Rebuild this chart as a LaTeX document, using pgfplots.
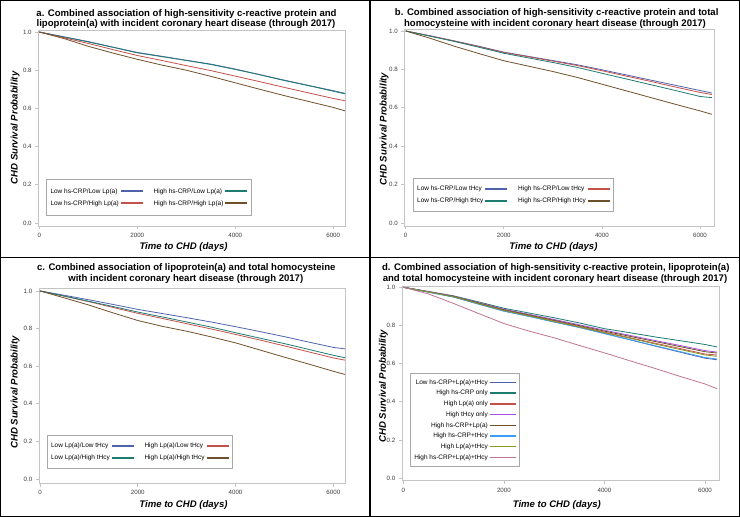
\documentclass[border=0pt]{standalone}
\usepackage{fontspec}
\setmainfont{Liberation Sans}
\usepackage{pgfplots}
\usepackage{pgfplotstable}
\pgfplotsset{compat=1.18}

\definecolor{cblue}{HTML}{4F63AD}
\definecolor{cred}{HTML}{C4504A}
\definecolor{cteal}{HTML}{1E7B70}
\definecolor{cbrown}{HTML}{70502A}
\definecolor{cpurple}{HTML}{A64FE0}
\definecolor{colive}{HTML}{869524}
\definecolor{clblue}{HTML}{3A9EF5}
\definecolor{cpink}{HTML}{C07493}
\definecolor{boxgrey}{HTML}{C4C4C4}
\definecolor{legendgrey}{HTML}{A8A8A8}
\definecolor{ticktext}{HTML}{3C3C3C}

\pgfplotstableread{
t LL HL LH HH
0 1.000 1.000 1.000 1.000
500 0.975 0.974 0.970 0.966
1000 0.950 0.948 0.940 0.925
1500 0.921 0.920 0.908 0.890
2000 0.893 0.891 0.877 0.857
2500 0.873 0.871 0.851 0.827
3000 0.852 0.851 0.824 0.800
3500 0.832 0.830 0.798 0.768
4000 0.806 0.804 0.769 0.734
4500 0.777 0.776 0.740 0.700
5000 0.748 0.746 0.710 0.667
5500 0.720 0.719 0.681 0.636
6000 0.693 0.690 0.652 0.605
6240 0.679 0.676 0.640 0.587
}\dataA

\pgfplotstableread{
t LL HL LH HH
0 1.000 1.000 1.000 1.000
500 0.975 0.974 0.973 0.962
1000 0.948 0.947 0.945 0.920
1500 0.920 0.918 0.915 0.882
2000 0.890 0.888 0.884 0.845
2500 0.868 0.866 0.860 0.817
3000 0.846 0.843 0.836 0.789
3500 0.824 0.820 0.810 0.758
4000 0.798 0.793 0.780 0.723
4500 0.771 0.765 0.750 0.688
5000 0.744 0.737 0.720 0.653
5500 0.717 0.708 0.690 0.618
6000 0.690 0.680 0.659 0.584
6240 0.677 0.669 0.653 0.566
}\dataB

\pgfplotstableread{
t LL LH HL HH
0 1.000 1.000 1.000 1.000
500 0.977 0.973 0.972 0.963
1000 0.953 0.945 0.943 0.925
1500 0.928 0.917 0.912 0.883
2000 0.902 0.888 0.881 0.843
2500 0.880 0.862 0.854 0.812
3000 0.858 0.835 0.826 0.786
3500 0.835 0.808 0.798 0.756
4000 0.810 0.778 0.769 0.724
4500 0.784 0.749 0.739 0.686
5000 0.757 0.720 0.708 0.648
5500 0.728 0.689 0.676 0.611
6000 0.700 0.658 0.644 0.573
6240 0.692 0.645 0.632 0.556
}\dataC

\pgfplotstableread{
t none crp lpa hcy crplpa crphcy lpahcy all
0 1.000 1.000 1.000 1.000 1.000 1.000 1.000 1.000
500 0.975 0.978 0.976 0.977 0.976 0.974 0.975 0.965
1000 0.950 0.955 0.952 0.953 0.952 0.948 0.950 0.915
1500 0.912 0.923 0.916 0.919 0.917 0.911 0.914 0.862
2000 0.875 0.890 0.880 0.885 0.882 0.875 0.878 0.810
2500 0.848 0.865 0.852 0.858 0.855 0.847 0.850 0.770
3000 0.818 0.840 0.824 0.831 0.827 0.818 0.821 0.735
3500 0.790 0.813 0.795 0.803 0.799 0.789 0.792 0.695
4000 0.758 0.783 0.765 0.775 0.770 0.757 0.762 0.656
4500 0.725 0.762 0.736 0.748 0.743 0.726 0.733 0.615
5000 0.692 0.740 0.707 0.721 0.716 0.694 0.703 0.575
5500 0.660 0.720 0.679 0.695 0.689 0.663 0.674 0.533
6000 0.628 0.700 0.650 0.668 0.662 0.632 0.645 0.493
6240 0.620 0.687 0.645 0.660 0.655 0.624 0.638 0.468
}\dataD

\newcommand{\tfont}{\fontsize{9.6}{10.5}\selectfont\bfseries}

\pgfplotsset{
  km/.style={
    scale only axis,
    axis line style={draw=boxgrey, line width=0.7bp},
    every tick/.style={draw=boxgrey, line width=0.7bp},
    tick align=outside, major tick length=3.5bp,
    tick pos=left,
    xtick={0,2000,4000,6000}, ytick={0,0.2,0.4,0.6,0.8,1.0},
    yticklabel style={/pgf/number format/.cd, fixed, fixed zerofill, precision=1},
    xticklabel style={/pgf/number format/1000 sep={}},
    tick label style={font=\fontsize{6.2}{7}\selectfont, text=ticktext},
    /pgf/number format/assume math mode=true,
    label style={font=\fontsize{9.6}{11}\selectfont\bfseries\itshape},
    xlabel={Time to CHD (days)}, ylabel={CHD Survival Probability},
    legend plot pos=right,
    legend image code/.code={\draw[##1, line width=1.8bp] (0bp,0bp) -- (22bp,0bp);},
    legend style={draw=legendgrey, line width=0.9bp, fill=white,
      font=\fontsize{6.5}{7}\selectfont, inner xsep=3bp, inner ysep=8bp,
      row sep=3.5bp, anchor=south west,
      nodes={inner sep=1bp, text height=5bp, text depth=1.5bp},
      /tikz/every even column/.append style={column sep=9bp}},
    every axis plot/.append style={line width=0.8bp, mark=none},
  },
  longlegend/.style={
    legend image code/.code={\draw[##1, line width=1.5bp] (0bp,0bp) -- (26bp,0bp);},
  }
}

\begin{document}
\begin{tikzpicture}
\path[use as bounding box] (0,0) rectangle (740bp,517bp);

% Panel a
\begin{axis}[km, at={(38.7bp,291bp)}, anchor=south west,
  width=306.3bp, height=196bp,
  xmin=-12, xmax=6240, ymin=-0.0157, ymax=1.0105,
  xlabel style={at={(axis description cs:0.473,0)}, anchor=base, yshift=-24bp},
  ylabel style={at={(axis description cs:-0.069,0.5)}, anchor=base},
  legend columns=2, legend cell align=left,
  legend style={at={(axis description cs:0.024,0.051)}}]
\addplot[cblue] table[x=t,y=LL]{\dataA};
\addlegendentry{Low hs-CRP/Low Lp(a)}
\addplot[cteal] table[x=t,y=HL]{\dataA};
\addlegendentry{High hs-CRP/Low Lp(a)}
\addplot[cred] table[x=t,y=LH]{\dataA};
\addlegendentry{Low hs-CRP/High Lp(a)}
\addplot[cbrown] table[x=t,y=HH]{\dataA};
\addlegendentry{High hs-CRP/High Lp(a)}
\end{axis}

% Panel b
\begin{axis}[km, at={(404.7bp,291bp)}, anchor=south west,
  width=309.3bp, height=197bp,
  xmin=-20, xmax=6285, ymin=-0.0156, ymax=1.0104,
  xlabel style={at={(axis description cs:0.481,0)}, anchor=base, yshift=-24bp},
  ylabel style={at={(axis description cs:-0.0588,0.492)}, anchor=base},
  legend columns=2, legend cell align=left,
  legend style={inner ysep=6bp, at={(axis description cs:0.026,0.073)}}]
\addplot[cblue] table[x=t,y=LL]{\dataB};
\addlegendentry{Low hs-CRP/Low tHcy}
\addplot[cred] table[x=t,y=HL]{\dataB};
\addlegendentry{High hs-CRP/Low tHcy}
\addplot[cteal] table[x=t,y=LH]{\dataB};
\addlegendentry{Low hs-CRP/High tHcy}
\addplot[cbrown] table[x=t,y=HH]{\dataB};
\addlegendentry{High hs-CRP/High tHcy}
\end{axis}

% Panel c
\begin{axis}[km, at={(39.3bp,34bp)}, anchor=south west,
  width=305.7bp, height=194.3bp,
  xmin=-14, xmax=6239, ymin=-0.021, ymax=1.012,
  xlabel style={at={(axis description cs:0.4717,0)}, anchor=base, yshift=-24.3bp},
  ylabel style={at={(axis description cs:-0.0713,0.467)}, anchor=base},
  legend columns=2, legend cell align=left,
  legend style={inner ysep=6bp, at={(axis description cs:0.024,0.074)}}]
\addplot[cblue] table[x=t,y=LL]{\dataC};
\addlegendentry{Low Lp(a)/Low tHcy}
\addplot[cred] table[x=t,y=HL]{\dataC};
\addlegendentry{High Lp(a)/Low tHcy}
\addplot[cteal] table[x=t,y=LH]{\dataC};
\addlegendentry{Low Lp(a)/High tHcy}
\addplot[cbrown] table[x=t,y=HH]{\dataC};
\addlegendentry{High Lp(a)/High tHcy}
\end{axis}

% Panel d
\begin{axis}[km, longlegend, at={(402.3bp,36.3bp)}, anchor=south west,
  width=316.7bp, height=194.4bp,
  xmin=-20, xmax=6278, ymin=-0.014, ymax=1.005,
  xlabel style={at={(axis description cs:0.488,0)}, anchor=base, yshift=-26.6bp},
  ylabel style={at={(axis description cs:-0.0515,0.486)}, anchor=base},
  legend columns=1, legend cell align=right,
  legend style={inner ysep=5bp, row sep=2.2bp, at={(axis description cs:0.024,0.07)}}]
\addplot[cblue] table[x=t,y=none]{\dataD};
\addlegendentry{Low hs-CRP+Lp(a)+tHcy}
\addplot[cteal] table[x=t,y=crp]{\dataD};
\addlegendentry{High hs-CRP only}
\addplot[cred] table[x=t,y=lpa]{\dataD};
\addlegendentry{High Lp(a) only}
\addplot[cpurple] table[x=t,y=hcy]{\dataD};
\addlegendentry{High tHcy only}
\addplot[cbrown] table[x=t,y=crplpa]{\dataD};
\addlegendentry{High hs-CRP+Lp(a)}
\addplot[clblue] table[x=t,y=crphcy]{\dataD};
\addlegendentry{High hs-CRP+tHcy}
\addplot[colive] table[x=t,y=lpahcy]{\dataD};
\addlegendentry{High Lp(a)+tHcy}
\addplot[cpink] table[x=t,y=all]{\dataD};
\addlegendentry{High hs-CRP+Lp(a)+tHcy}
\end{axis}

% Titles
\node[anchor=base, font=\tfont, inner sep=0] at (186.5bp,500.3bp) {a. Combined association of high-sensitivity c-reactive protein and};
\node[anchor=base, font=\tfont, inner sep=0] at (186bp,490.3bp) {lipoprotein(a) with incident coronary heart disease (through 2017)};
\node[anchor=base, font=\tfont, inner sep=0] at (556.7bp,501bp) {b. Combined association of high-sensitivity c-reactive protein and total};
\node[anchor=base, font=\tfont, inner sep=0] at (555bp,490.3bp) {homocysteine with incident coronary heart disease (through 2017)};
\node[anchor=base, font=\tfont, inner sep=0] at (186.3bp,246.7bp) {c. Combined association of lipoprotein(a) and total homocysteine};
\node[anchor=base, font=\tfont, inner sep=0] at (185.8bp,235.7bp) {with incident coronary heart disease (through 2017)};
\node[anchor=base, font=\tfont, inner sep=0] at (555.8bp,246.3bp) {d. Combined association of high-sensitivity c-reactive protein, lipoprotein(a)};
\node[anchor=base, font=\tfont, inner sep=0] at (555bp,235bp) {and total homocysteine with incident coronary heart disease (through 2017)};

% Frame
\draw[line width=1.3bp] (0.65bp,0.65bp) rectangle (739.35bp,516.35bp);
\draw[line width=1.3bp] (370bp,0bp) -- (370bp,517bp);
\draw[line width=1.3bp] (0bp,259.5bp) -- (740bp,259.5bp);
\end{tikzpicture}
\end{document}
